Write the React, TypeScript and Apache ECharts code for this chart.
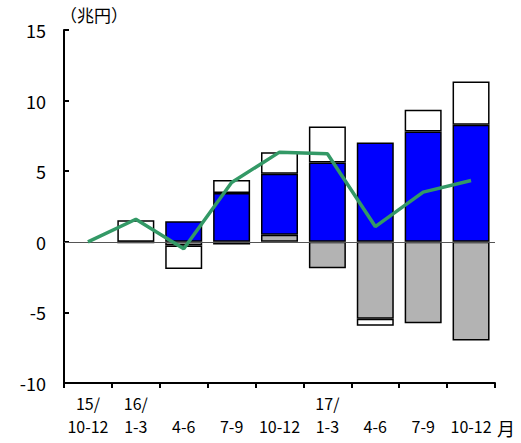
import React, { useEffect, useRef } from "react";
import * as echarts from "echarts";

const categories = ["15/\n10-12", "16/\n1-3", "\n4-6", "\n7-9", "\n10-12", "17/\n1-3", "\n4-6", "\n7-9", "\n10-12"];
const grayValues = [null, -0.05, -0.26, -0.2, 0.5, -1.87, -5.45, -5.76, -6.99];
const blueValues = [null, 0, 1.45, 3.45, 4.32, 5.62, 7.03, 7.81, 8.29];
const whiteValues = [null, 1.53, -1.66, 0.92, 1.53, 2.55, -0.5, 1.54, 3.06];
const lineValues = [0, 1.6, -0.49, 4.2, 6.35, 6.23, 1.08, 3.52, 4.34];
const yTicks = { min: -10, max: 15, interval: 5 };

const FONT = "'Noto Sans CJK JP', sans-serif";

export default function App() {
  const ref = useRef<HTMLDivElement>(null);
  useEffect(() => {
    if (!ref.current) return;
    const chart = echarts.init(ref.current, null, { renderer: "svg" });
    const barBase = {
      type: "bar",
      stack: "total",
      barWidth: 37,
      itemStyle: { borderColor: "#000", borderWidth: 1.5 },
    };
    chart.setOption({
      animation: false,
      backgroundColor: "#fff",
      grid: { left: 64, right: 26, top: 30, bottom: 60 },
      xAxis: {
        type: "category",
        data: categories,
        axisLine: { onZero: false, lineStyle: { color: "#000", width: 2 } },
        axisTick: { show: true, length: 5, lineStyle: { color: "#000", width: 2 } },
        axisLabel: { color: "#000", fontSize: 16, fontFamily: FONT, lineHeight: 23, margin: 8, interval: 0 },
      },
      yAxis: {
        type: "value",
        min: yTicks.min,
        max: yTicks.max,
        interval: yTicks.interval,
        splitLine: { show: false },
        axisLine: { show: true, lineStyle: { color: "#000", width: 2 } },
        axisTick: { show: true, inside: true, length: 5, lineStyle: { color: "#000", width: 2 } },
        axisLabel: { color: "#000", fontSize: 18, fontFamily: FONT, margin: 18 },
      },
      series: [
        { ...barBase, name: "gray", data: grayValues, itemStyle: { ...barBase.itemStyle, color: "#b3b3b3" } },
        {
          ...barBase,
          name: "blue",
          data: blueValues,
          itemStyle: { ...barBase.itemStyle, color: "#0000ff" },
          markLine: {
            silent: true,
            symbol: "none",
            label: { show: false },
            lineStyle: { color: "#555", width: 1, type: "solid" },
            data: [{ yAxis: 0 }],
          },
        },
        { ...barBase, name: "white", data: whiteValues, itemStyle: { ...barBase.itemStyle, color: "#ffffff" } },
        {
          type: "line",
          name: "total",
          data: lineValues,
          symbol: "none",
          lineStyle: { color: "#339966", width: 3.5 },
          z: 5,
        },
      ],
      graphic: [
        { type: "text", left: 60, top: 6, style: { text: "（兆円）", fontSize: 17, fontFamily: FONT, fill: "#000" } },
        { type: "text", left: 497, top: 419, style: { text: "月", fontSize: 18, fontFamily: FONT, fill: "#000" } },
      ],
    });
    return () => chart.dispose();
  }, []);
  return <div ref={ref} style={{ position: "fixed", left: 0, top: 0, width: 521, height: 443 }} />;
}
